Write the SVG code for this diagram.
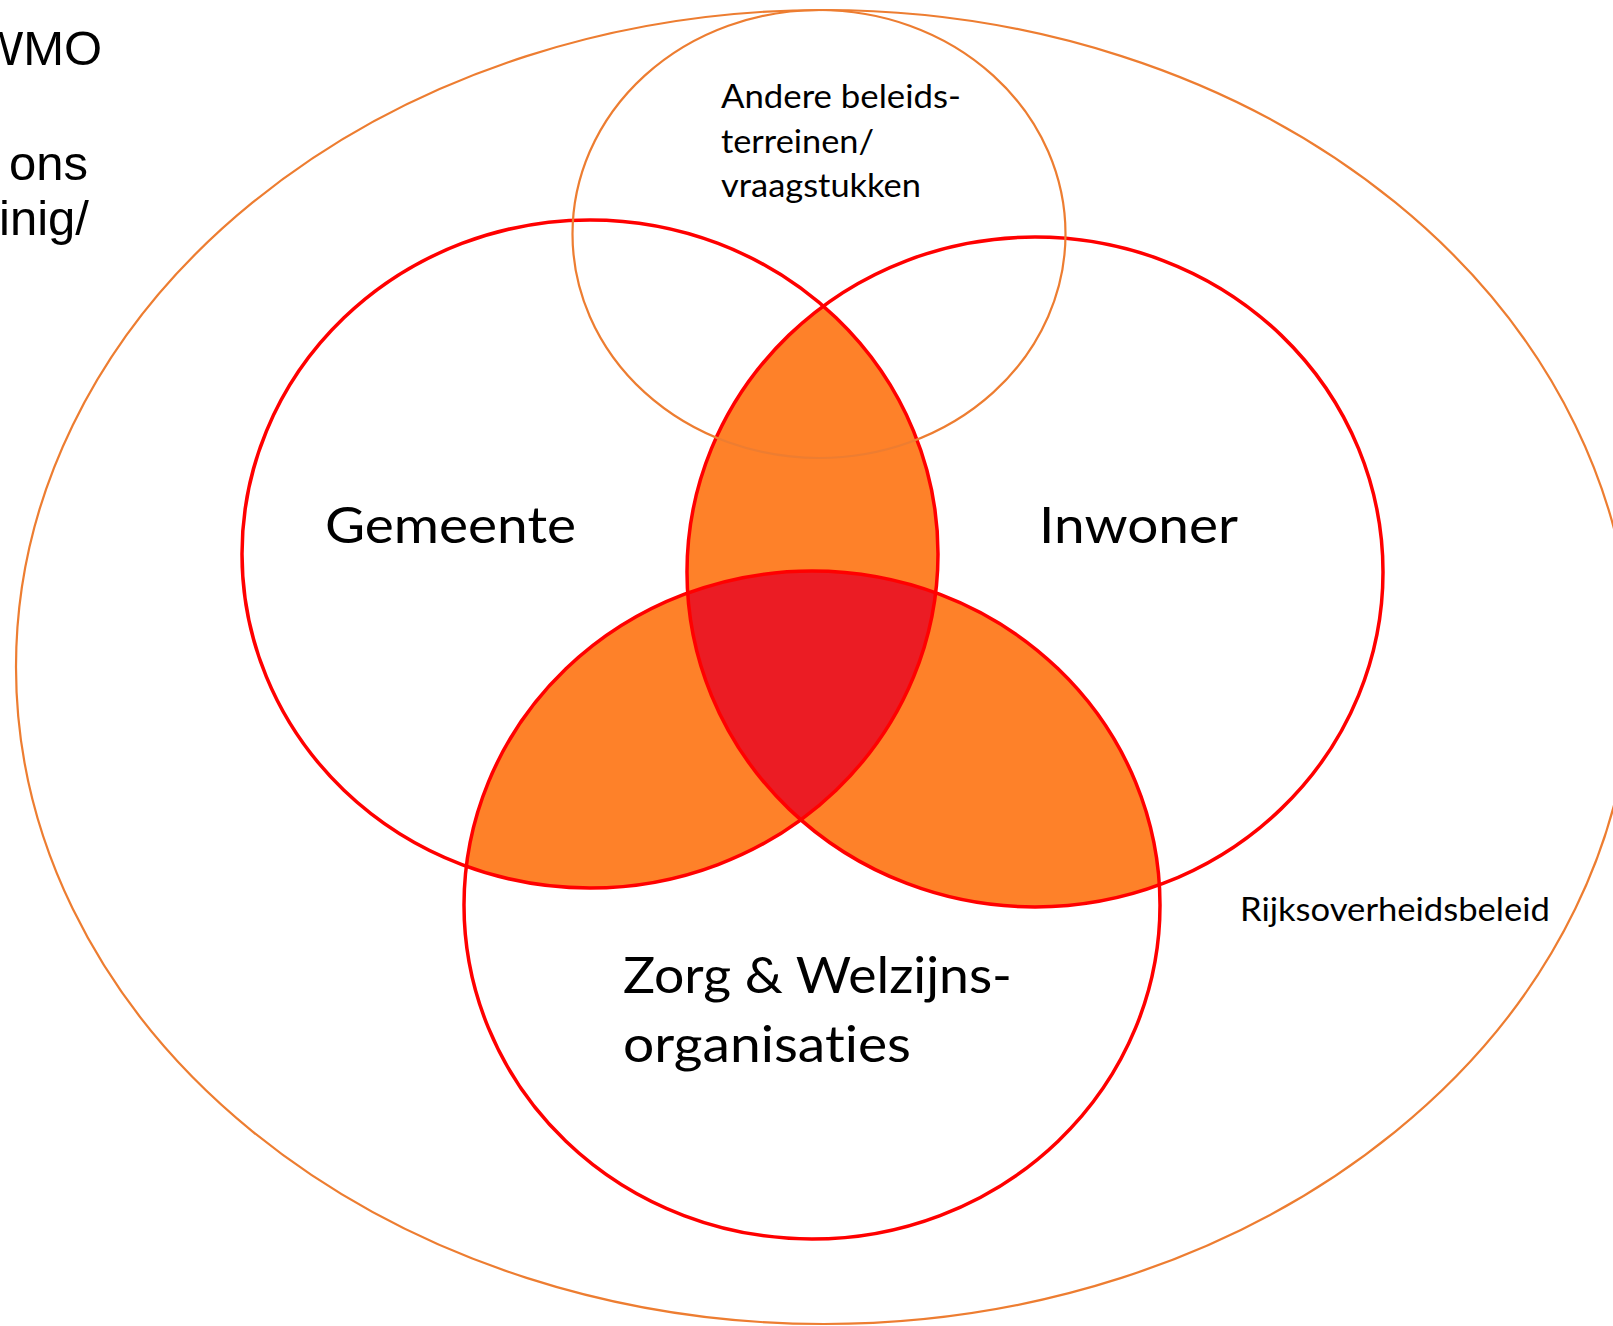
<svg xmlns="http://www.w3.org/2000/svg" width="1613" height="1326" viewBox="0 0 1613 1326">
<style>
.ring{fill:none;stroke:#ED7D31;stroke-width:2.2}
.red{fill:none;stroke:#FF0000;stroke-width:3.5}
.cal{font-family:Lato,"Open Sans","Liberation Sans",sans-serif;fill:#000;font-variant-ligatures:none;font-feature-settings:"liga" 0,"dlig" 0}
.ari{font-family:"Liberation Sans",Arial,sans-serif;fill:#000;font-size:49px}
.big{font-size:51px}
.sm{font-size:33px}
.or{fill:#FE8129}
.rd{fill:#EB1C24}
</style>
<defs>
<clipPath id="cG"><ellipse cx="590" cy="554" rx="348" ry="334"/></clipPath>
<clipPath id="cI"><ellipse cx="1035" cy="572" rx="348" ry="335"/></clipPath>
<clipPath id="cZ"><ellipse cx="812" cy="905" rx="348" ry="334"/></clipPath>
</defs>
<rect width="1613" height="1326" fill="#fff"/>

<g id="rijksoverheidsbeleid">
<ellipse class="ring" cx="824" cy="667" rx="808" ry="657"/>
<text class="cal sm" x="1240" y="921" textLength="310" lengthAdjust="spacingAndGlyphs">Rijksoverheidsbeleid</text>
</g>

<g id="overlaps">
<g clip-path="url(#cG)"><ellipse class="or" cx="1035" cy="572" rx="348" ry="335"/></g>
<g clip-path="url(#cG)"><ellipse class="or" cx="812" cy="905" rx="348" ry="334"/></g>
<g clip-path="url(#cI)"><ellipse class="or" cx="812" cy="905" rx="348" ry="334"/></g>
<g clip-path="url(#cG)"><g clip-path="url(#cI)"><ellipse class="rd" cx="812" cy="905" rx="348" ry="334"/></g></g>
</g>

<g id="gemeente">
<ellipse class="red" cx="590" cy="554" rx="348" ry="334"/>
<text class="cal big" x="325" y="543" textLength="251" lengthAdjust="spacingAndGlyphs">Gemeente</text>
</g>

<g id="inwoner">
<ellipse class="red" cx="1035" cy="572" rx="348" ry="335"/>
<text class="cal big" x="1039" y="543" textLength="199" lengthAdjust="spacingAndGlyphs">Inwoner</text>
</g>

<g id="zorg">
<ellipse class="red" cx="812" cy="905" rx="348" ry="334"/>
<text class="cal big" x="623" y="993" textLength="389" lengthAdjust="spacingAndGlyphs">Zorg &amp; Welzijns-</text>
<text class="cal big" x="623" y="1062" textLength="288" lengthAdjust="spacingAndGlyphs">organisaties</text>
</g>

<g id="andere">
<ellipse class="ring" cx="819" cy="234" rx="246.5" ry="224"/>
<text class="cal sm" x="721" y="108" textLength="240" lengthAdjust="spacingAndGlyphs">Andere beleids-</text>
<text class="cal sm" x="721" y="153" textLength="153" lengthAdjust="spacingAndGlyphs">terreinen/</text>
<text class="cal sm" x="721" y="197" textLength="200" lengthAdjust="spacingAndGlyphs">vraagstukken</text>
</g>

<g id="side-text">
<text class="ari" x="-23" y="65">WMO</text>
<text class="ari" x="9" y="180">ons</text>
<text class="ari" x="-1" y="235">inig/</text>
</g>
</svg>
